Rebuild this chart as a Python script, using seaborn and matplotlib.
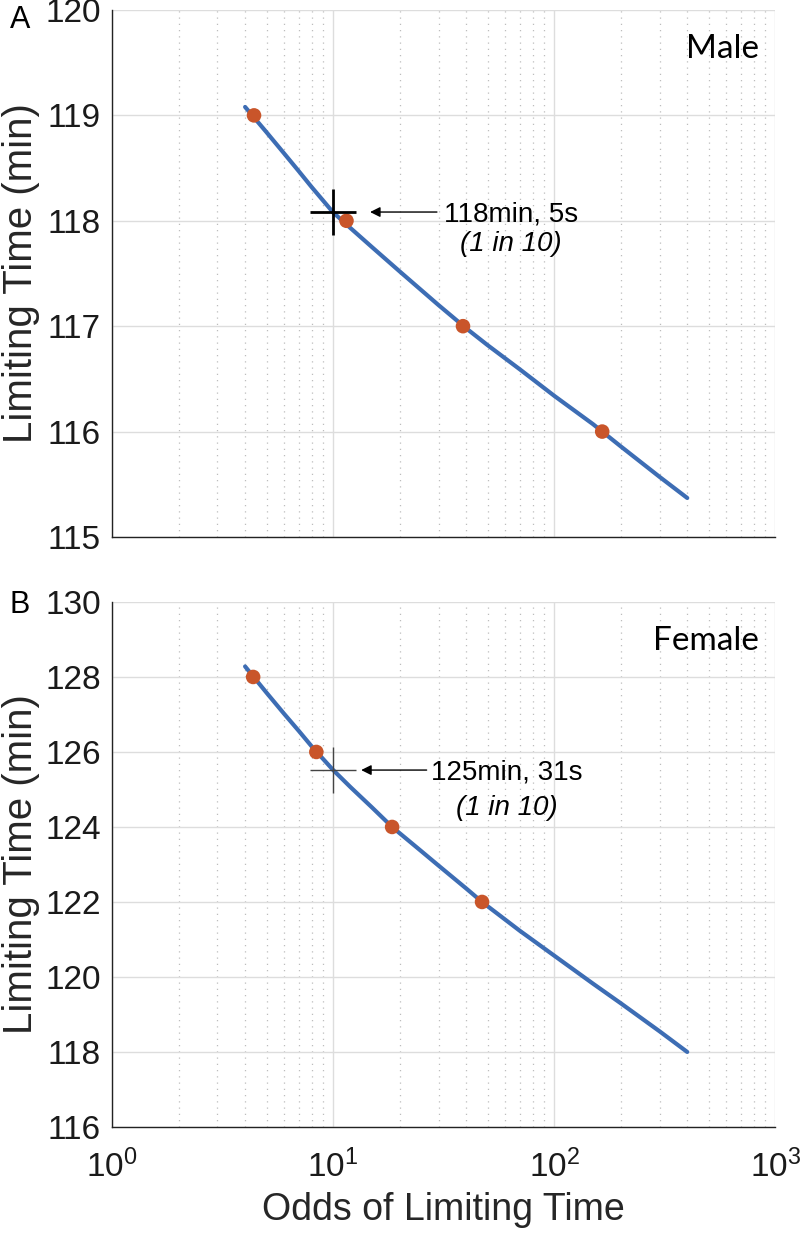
import numpy as np
import pandas as pd
import matplotlib
matplotlib.use("Agg")
import matplotlib.pyplot as plt
import seaborn as sns
from matplotlib.ticker import LogLocator, NullFormatter

# curve (odds, minutes)
male_odds = [4, 5, 6, 7, 8, 10, 12, 15, 20, 30, 40, 50, 70, 100, 150, 200, 300, 400]
male_time = [119.08, 118.84, 118.64, 118.47, 118.32, 118.08, 117.93, 117.75, 117.52,
             117.20, 116.98, 116.82, 116.59, 116.34, 116.07, 115.86, 115.57, 115.37]
male_dot_odds = [4.39, 11.5, 38.7, 165]
male_dot_time = [119, 118, 117, 116]

female_odds = [4, 5, 6, 7, 8, 10, 12, 15, 18.5, 25, 30, 40, 47.2, 70, 100, 150, 200, 300, 400]
female_time = [128.28, 127.58, 127.02, 126.56, 126.15, 125.52, 125.06, 124.52, 124.0,
               123.36, 122.97, 122.36, 122.0, 121.23, 120.57, 119.82, 119.30, 118.55, 118.0]
female_dot_odds = [4.35, 8.4, 18.5, 47.2]
female_dot_time = [128, 126, 124, 122]

# 1-in-10 marks
male_mark = (10, 118.083)
female_mark = (10, 125.517)
male_text = ["118min, 5s", "(1 in 10)"]
female_text = ["125min, 31s", "(1 in 10)"]

sns.set_style("white")
plt.rcParams['font.family'] = ['Liberation Sans', 'DejaVu Sans']
plt.rcParams['text.color'] = 'black'

line_col = '#3d6db4'
dot_col = '#c9552a'

fig = plt.figure(figsize=(8, 12.33), dpi=100)
ax1 = fig.add_axes([0.14, 0.5645, 0.829, 0.4274])
ax2 = fig.add_axes([0.14, 0.0860, 0.829, 0.4258])


def draw_panel(ax, odds, times, dx, dy, mark, txt, ylim, yticks, name, big_cross,
               arrow_x, text_x, line_gap):
    df = pd.DataFrame({'odds': odds, 'time': times})
    dots = pd.DataFrame({'odds': dx, 'time': dy})
    sns.lineplot(data=df, x='odds', y='time', ax=ax, color=line_col, lw=3, sort=True)
    sns.scatterplot(data=dots, x='odds', y='time', ax=ax, color=dot_col, s=110,
                    edgecolor='none', zorder=5)
    if big_cross:
        ax.plot(*mark, marker='+', ms=33, mew=2, color='black', zorder=6)
    else:
        ax.plot(*mark, marker='+', ms=33, mew=1, color='#444444', zorder=6)
    ax.set_xscale('log')
    ax.set_xlim(1, 1000)
    ax.set_ylim(*ylim)
    ax.set_yticks(yticks)
    ax.xaxis.set_major_locator(LogLocator(base=10, numticks=10))
    ax.xaxis.set_minor_locator(LogLocator(base=10, subs=np.arange(2, 10), numticks=20))
    ax.xaxis.set_minor_formatter(NullFormatter())
    ax.grid(True, which='major', color='#dddddd', lw=1, ls='-')
    ax.grid(True, which='minor', axis='x', color='#bdbdbd', lw=0.9, ls=(0, (1, 4)))
    ax.set_axisbelow(True)
    ax.tick_params(which='both', direction='in', labelsize=24, colors='#1a1a1a')
    ax.tick_params(which='major', length=6, width=1)
    ax.tick_params(which='minor', length=3, width=0.8)
    ax.tick_params(axis='y', pad=8)
    for s in ['top', 'right']:
        ax.spines[s].set_visible(False)
    for s in ['left', 'bottom']:
        ax.spines[s].set_color('#222222')
        ax.spines[s].set_linewidth(1)
    ax.set_ylabel('Limiting Time (min)', fontsize=29, labelpad=4)
    ax.set_xlabel('')
    # annotation arrow and text
    ax.annotate('', xy=(arrow_x[0], mark[1]), xytext=(arrow_x[1], mark[1]),
                textcoords='data',
                arrowprops=dict(arrowstyle='-|>', color='black', lw=1,
                                mutation_scale=15, shrinkA=0, shrinkB=0))
    ax.annotate(txt[0], xy=(text_x, mark[1]), xytext=(0, -1.5), textcoords='offset points',
                fontsize=20, ha='center', va='center')
    ax.annotate(txt[1], xy=(text_x, mark[1]), xytext=(0, -line_gap), textcoords='offset points',
                fontsize=20, ha='center', va='center', style='italic')
    ax.text(0.975, 0.955, name, transform=ax.transAxes, ha='right', va='top',
            fontsize=24, family=['Lato', 'DejaVu Sans'], fontweight='normal',
            color='black')


draw_panel(ax1, male_odds, male_time, male_dot_odds, male_dot_time, male_mark,
           male_text, (115, 120), [115, 116, 117, 118, 119, 120], 'Male', True,
           (14.7, 29.5), 64, 23)
draw_panel(ax2, female_odds, female_time, female_dot_odds, female_dot_time, female_mark,
           female_text, (116, 130), list(range(116, 131, 2)), 'Female', False,
           (13.4, 26.5), 61, 27)

ax1.xaxis.set_major_formatter(NullFormatter())
ax2.set_xlabel('Odds of Limiting Time', fontsize=27, labelpad=6)
ax2.tick_params(axis='x', which='major', pad=16)

fig.text(0.012, 0.984, 'A', fontsize=22, va='center')
fig.text(0.012, 0.509, 'B', fontsize=22, va='center')

fig.savefig('out.png', dpi=100)
